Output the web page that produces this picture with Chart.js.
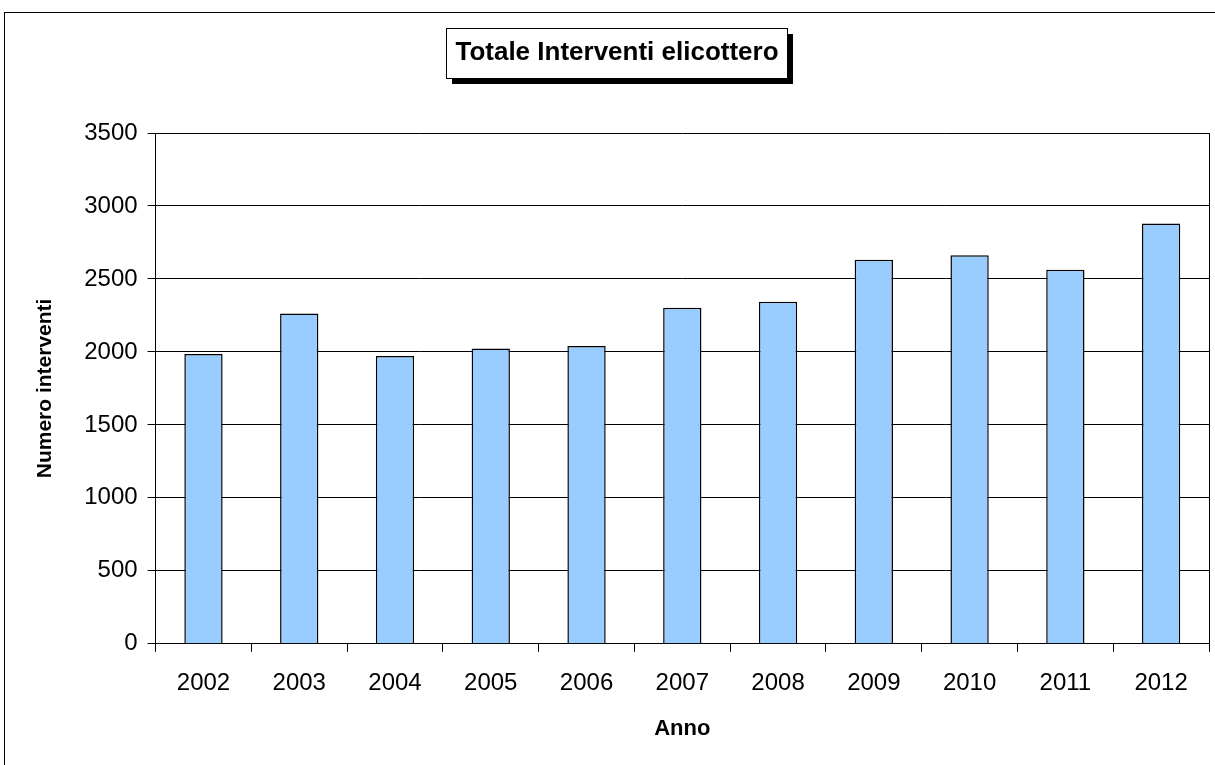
<!DOCTYPE html>
<html>
<head>
<meta charset="utf-8">
<script src="https://cdn.jsdelivr.net/npm/chart.js@4"></script>
<style>
  html, body { margin: 0; padding: 0; background: #fff; }
  #wrap { width: 1215px; height: 765px; position: relative; }
</style>
</head>
<body>
<div id="wrap"><canvas id="chart" width="1215" height="765"></canvas></div>
<script>
const years = ['2002', '2003', '2004', '2005', '2006', '2007', '2008', '2009', '2010', '2011', '2012'];
const interventi = [1985, 2263, 1972, 2024, 2040, 2302, 2343, 2632, 2662, 2563, 2880];
const chartTitle = 'Totale Interventi elicottero';
const yTitle = 'Numero interventi';
const xTitle = 'Anno';

const fontFamily = '"Liberation Sans", Arial, sans-serif';

// frame around the whole picture, box with shadow for the title, border of the plot area
const decorations = {
  id: 'decorations',
  beforeDraw(chart) {
    const ctx = chart.ctx;
    ctx.save();
    ctx.fillStyle = '#fff';
    ctx.fillRect(0, 0, chart.width, chart.height);
    ctx.strokeStyle = '#000';
    ctx.lineWidth = 1;
    ctx.strokeRect(4.5, 12.5, 1400, 900);

    // title box
    ctx.font = 'bold 26px ' + fontFamily;
    const w = ctx.measureText(chartTitle).width;
    const cx = 617, cy = 53;
    const bx = Math.round(cx - w / 2 - 9), by = 28;
    const bw = Math.round(w + 18), bh = 50;
    ctx.fillStyle = '#000';
    ctx.fillRect(bx + 6, by + 6, bw, bh);
    ctx.fillStyle = '#fff';
    ctx.fillRect(bx, by, bw, bh);
    ctx.strokeRect(bx + 0.5, by + 0.5, bw, bh);
    ctx.fillStyle = '#000';
    ctx.textAlign = 'center';
    ctx.textBaseline = 'middle';
    ctx.fillText(chartTitle, cx, cy);
    ctx.restore();
  },
  afterDraw(chart) {
    const a = chart.chartArea;
    const ctx = chart.ctx;
    ctx.save();
    ctx.strokeStyle = '#000';
    ctx.lineWidth = 1;
    ctx.beginPath();
    ctx.moveTo(Math.round(a.right) + 0.5, a.top);
    ctx.lineTo(Math.round(a.right) + 0.5, a.bottom);
    ctx.stroke();
    ctx.restore();
  }
};

new Chart(document.getElementById('chart'), {
  type: 'bar',
  data: {
    labels: years,
    datasets: [{
      label: chartTitle,
      data: interventi,
      backgroundColor: '#99CCFF',
      borderColor: '#000',
      borderWidth: 1.5,
      barPercentage: 0.4,
      categoryPercentage: 1
    }]
  },
  options: {
    responsive: false,
    animation: false,
    layout: { padding: { top: 133, left: 33, right: 6, bottom: 23 } },
    plugins: {
      legend: { display: false },
      title: { display: false },
      tooltip: { enabled: false }
    },
    scales: {
      x: {
        offset: true,
        grid: { offset: true, drawOnChartArea: false, color: '#000', tickLength: 8 },
        border: { color: '#000', width: 1 },
        ticks: { color: '#000', font: { family: fontFamily, size: 24 }, padding: 17 },
        title: { display: true, text: xTitle, color: '#000', font: { family: fontFamily, size: 22, weight: 'bold' }, padding: { top: 1, bottom: 0 } }
      },
      y: {
        min: 0,
        max: 3500,
        ticks: {
          stepSize: 500, color: '#000', font: { family: fontFamily, size: 24 }, padding: 10,
          callback: v => String(v)
        },
        grid: { color: '#000', tickLength: 8 },
        border: { color: '#000', width: 1 },
        title: { display: true, text: yTitle, color: '#000', font: { family: fontFamily, size: 21, weight: 'bold' }, padding: { top: 0, bottom: 16 } }
      }
    }
  },
  plugins: [decorations]
});
</script>
</body>
</html>
